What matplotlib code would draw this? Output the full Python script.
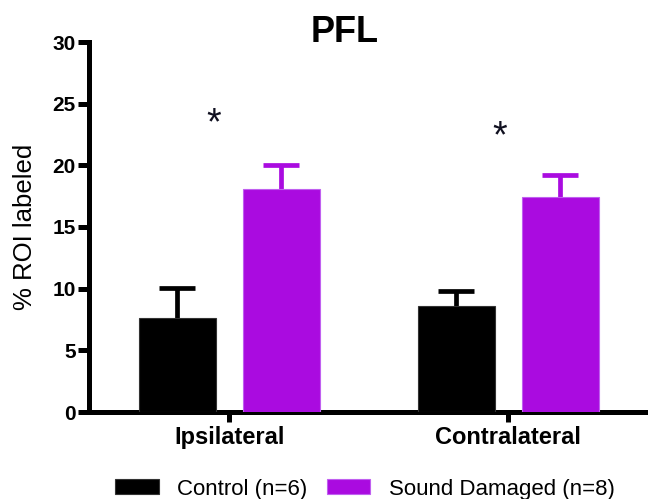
import matplotlib
matplotlib.use("Agg")
import matplotlib.pyplot as plt
import numpy as np

# values (mean, upper SEM)
groups = ["Ipsilateral", "Contralateral"]
series = ["Control (n=6)", "Sound Damaged (n=8)"]
control_mean = [7.6, 8.6]
control_err = [2.45, 1.25]
damaged_mean = [18.05, 17.4]
damaged_err = [2.0, 1.85]
yticks = [0, 5, 10, 15, 20, 25, 30]
star_x = [-0.055, 0.97]
star_y = [23.3, 22.3]

BLACK = "#000000"
PURPLE = "#AA0BE0"
FONT = "Liberation Sans"

plt.rcParams.update({
    "font.family": FONT,
    "figure.facecolor": "white",
    "axes.facecolor": "white",
})

fig = plt.figure(figsize=(6.48, 4.99), dpi=100)
ax = fig.add_axes([89 / 648, 87 / 499, 1 - 89 / 648, (412 - 42) / 499])

x = np.arange(len(groups))
w = 0.276
off = 0.186
ax.bar(x - off, control_mean, width=w, color=BLACK, edgecolor="#333333",
       linewidth=0.8, zorder=3, label=series[0])
ax.bar(x + off, damaged_mean, width=w, color=PURPLE, edgecolor="#c060f0",
       linewidth=0.8, zorder=3, label=series[1])
for xs, m, e, c in ((x - off, control_mean, control_err, BLACK),
                    (x + off, damaged_mean, damaged_err, PURPLE)):
    _, caps, _ = ax.errorbar(xs, m, yerr=[np.zeros(2), e], fmt="none",
                             ecolor=c, elinewidth=3.4, capsize=13.3,
                             capthick=3.4, zorder=2)
    caps[0].set_visible(False)   # one-sided: no cap hidden at the bar top

for sx, sy in zip(star_x, star_y):
    ax.text(sx, sy, "*", ha="center", va="center", fontsize=27,
            color="#101020")

ax.set_xlim(-0.502, 1.5)
ax.set_ylim(0, 30)
ax.set_xticks(x)
ax.set_xticklabels(groups, fontsize=17, fontweight="bold")
ax.set_yticks(yticks)
ax.set_yticklabels([str(t) for t in yticks], fontsize=15, fontweight="bold")
ax.set_ylabel("% ROI labeled", fontsize=18.5, labelpad=11)

for s in ("top", "right"):
    ax.spines[s].set_visible(False)
for s in ("left", "bottom"):
    ax.spines[s].set_linewidth(3.6)
ax.tick_params(axis="y", length=8, width=3.6, pad=1.5)
ax.tick_params(axis="x", length=7, width=3.6, pad=3)

fig.text(345 / 648, (499 - 42) / 499, "PFL", ha="center", va="baseline",
         fontsize=26, fontweight="bold")

fig.legend(loc="center", bbox_to_anchor=(365 / 648, 10 / 499), ncol=2,
           frameon=False, fontsize=16, handlelength=1.95, handleheight=0.68,
           handletextpad=0.85, columnspacing=0.85, borderpad=0, borderaxespad=0)

fig.savefig("out.png", dpi=100)
